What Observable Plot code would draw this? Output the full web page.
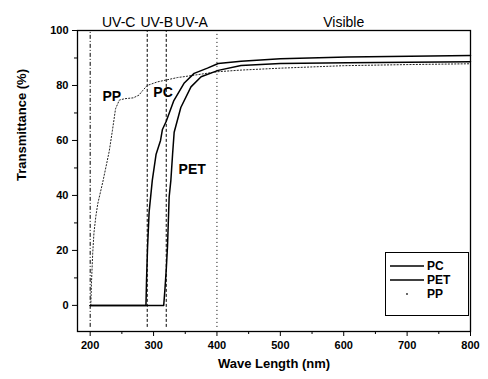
<!DOCTYPE html>
<html>
<head>
<meta charset="utf-8">
<script src="https://cdn.jsdelivr.net/npm/d3@7"></script>
<script src="https://cdn.jsdelivr.net/npm/@observablehq/plot@0.6"></script>
<style>
  html, body { margin: 0; padding: 0; background: #fff; }
  #wrap { position: relative; width: 488px; height: 379px; }
  .legend {
    position: absolute; left: 385px; top: 252px; width: 84px; height: 64px;
    border: 1px solid #000; background: #fff; box-sizing: border-box;
    font: bold 12px Arial, "Liberation Sans", sans-serif; color: #000;
  }
  .legend .row { position: absolute; left: 4px; height: 14px; display: flex; align-items: center; }
  .legend svg { margin-right: 3px; }
</style>
</head>
<body>
<div id="wrap"></div>
<script>
// Spectral region boundaries (nm) and their names
const regionBounds = [200, 290, 320, 400, 800];
const regionNames = ["UV-C", "UV-B", "UV-A", "Visible"];
const boundaryDash = ["4,2,1,2", "3,2", "3,2", "1,3"];

// Transmittance spectra (%), wavelength in nm
const pcNm = [200, 288, 289, 290.5, 293, 298, 304, 311, 314, 320, 332, 348, 364, 385, 402, 438, 500, 606, 737, 800];
const pcT  = [0, 0, 10, 21, 34, 45.5, 55, 60, 64, 67, 74.5, 80.8, 84.4, 86.3, 88, 88.8, 89.7, 90.4, 90.7, 90.9];

const petNm = [200, 316, 318, 320, 322, 324.6, 327.3, 330, 332.5, 343, 359, 375, 402, 438, 500, 606, 800];
const petT  = [0, 0, 6, 13, 21.5, 39.5, 45.5, 55, 63, 72, 79.5, 83.2, 85.5, 87.3, 88, 88.3, 88.6];

const ppNm = [201, 202, 204, 206, 209, 212, 216, 220, 225, 230, 235, 240, 246, 255, 268, 277, 283, 290, 306, 338, 348, 401, 438, 500, 600, 700, 800];
const ppT  = [0, 8, 19, 26.5, 32.5, 37, 41, 45, 50.5, 56, 63.5, 71.5, 74.7, 75.2, 75.5, 76.5, 78.2, 80, 81.3, 82.9, 83.2, 85, 85.6, 86.3, 87.2, 87.6, 87.9];

// In-plot curve annotations
const curveLabels = ["PP", "PC", "PET"];
const curveLabelNm = [234, 315, 361];
const curveLabelT = [76, 77.5, 49.5];

// Axis ticks
const xMajor = [200, 300, 400, 500, 600, 700, 800];
const xMinor = [250, 350, 450, 550, 650, 750];
const yMajor = [0, 20, 40, 60, 80, 100];
const yMinor = [10, 30, 50, 70, 90];

const series = [
  {name: "PC", nm: pcNm, t: pcT},
  {name: "PET", nm: petNm, t: petT},
  {name: "PP", nm: ppNm, t: ppT}
];
const rows = series.flatMap(s => s.nm.map((x, i) => ({name: s.name, nm: x, t: s.t[i]})));
const pick = name => rows.filter(d => d.name === name);

const boundaries = regionBounds.slice(0, 4).map((nm, i) => ({nm, dash: boundaryDash[i]}));
const regions = regionNames.map((name, i) => ({name, mid: (regionBounds[i] + regionBounds[i + 1]) / 2}));
const notes = curveLabels.map((text, i) => ({text, nm: curveLabelNm[i], t: curveLabelT[i]}));

const font = "Arial, 'Liberation Sans', sans-serif";

const chart = Plot.plot({
  width: 488,
  height: 379,
  marginLeft: 77,
  marginRight: 18,
  marginTop: 30,
  marginBottom: 48,
  style: {fontFamily: font, fontSize: "11px", fontWeight: "bold", color: "#000", background: "#fff"},
  x: {domain: [180, 800]},
  y: {domain: [-9.5, 100]},
  marks: [
    // region boundaries
    ...boundaries.map(b => Plot.ruleX([b.nm], {y1: -8, y2: 100, stroke: "#000", strokeWidth: 1, strokeDasharray: b.dash})),
    // spectra
    Plot.line(pick("PP"), {x: "nm", y: "t", stroke: "#222", strokeWidth: 1, strokeDasharray: "1.2,2", curve: "linear"}),
    Plot.line(pick("PET"), {x: "nm", y: "t", stroke: "#000", strokeWidth: 1.5}),
    Plot.line(pick("PC"), {x: "nm", y: "t", stroke: "#000", strokeWidth: 1.5}),
    // axes
    Plot.axisX({ticks: xMajor, tickSize: 5, tickPadding: 5, tickFormat: "d", label: null, fontSize: 11}),
    Plot.axisX({ticks: xMinor, tickSize: 3, tickFormat: () => "", label: null}),
    Plot.axisY({ticks: yMajor, tickSize: 5, tickPadding: 4, tickFormat: "d", label: null, fontSize: 11}),
    Plot.axisY({ticks: yMinor, tickSize: 3, tickFormat: () => "", label: null}),
    Plot.frame({stroke: "#000", strokeWidth: 1.3}),
    // axis titles
    Plot.text(["Wave Length (nm)"], {frameAnchor: "bottom", dy: 36, fontSize: 13, fontWeight: "bold"}),
    Plot.text(["Transmittance (%)"], {frameAnchor: "left", dx: -56, rotate: -90, fontSize: 13, fontWeight: "bold"}),
    // region names above the frame
    Plot.text(regions, {x: "mid", text: "name", frameAnchor: "top", dy: -13, fontSize: 14, fontWeight: "normal"}),
    // curve annotations
    Plot.text(notes, {x: "nm", y: "t", text: "text", fontSize: 14, fontWeight: "bold"})
  ]
});

const wrap = document.getElementById("wrap");
wrap.appendChild(chart);

// legend
const legend = document.createElement("div");
legend.className = "legend";
const legendItems = [
  {name: "PC", dash: null},
  {name: "PET", dash: null},
  {name: "PP", dash: "dot"}
];
legendItems.forEach((item, i) => {
  const row = document.createElement("div");
  row.className = "row";
  row.style.top = (6 + i * 14) + "px";
  const sample = item.dash
    ? `<svg width="34" height="10"><circle cx="17" cy="5" r="0.9" fill="#222"/></svg>`
    : `<svg width="34" height="10"><line x1="0" x2="34" y1="5" y2="5" stroke="#000" stroke-width="1.3"/></svg>`;
  row.innerHTML = sample + `<span>${item.name}</span>`;
  legend.appendChild(row);
});
wrap.appendChild(legend);
</script>
</body>
</html>
